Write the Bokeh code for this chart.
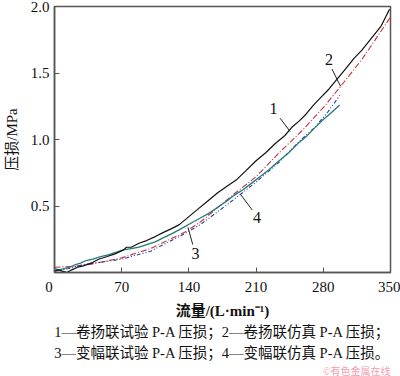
from bokeh.plotting import figure
from bokeh.models import Label, FixedTicker, Range1d, ColumnDataSource, Title, PrintfTickFormatter
from bokeh.embed import file_html
from bokeh.resources import INLINE

# ---- data ----
x1 = [0, 4, 8, 13, 18, 24, 30, 38, 46, 55, 63, 72, 75, 80, 88, 96, 105, 113, 122, 130, 140, 150,
      160, 170, 180, 190, 200, 210, 220, 230, 240, 247, 255, 262, 270, 278, 286, 295, 303, 312,
      320, 330, 340, 349]
y1 = [0.01, 0.02, 0.01, 0.00, 0.02, 0.04, 0.05, 0.07, 0.10, 0.12, 0.14, 0.17, 0.19, 0.19, 0.22,
      0.24, 0.27, 0.30, 0.33, 0.36, 0.42, 0.48, 0.54, 0.60, 0.65, 0.70, 0.77, 0.84, 0.90, 0.97,
      1.03, 1.09, 1.14, 1.19, 1.26, 1.32, 1.38, 1.46, 1.53, 1.61, 1.67, 1.76, 1.85, 1.98]

x2 = [0, 20, 40, 70, 100, 135, 152, 187, 210, 234, 257, 280, 297, 320, 350]
y2 = [0.04, 0.045, 0.065, 0.11, 0.18, 0.30, 0.38, 0.59, 0.72, 0.90, 1.06, 1.24, 1.39, 1.60, 1.92]

x3 = [0, 5, 10, 16, 22, 27, 33, 40, 48, 55, 63, 72, 80, 88, 96, 105, 113, 122, 132, 142, 152,
      162, 170, 180, 187, 196, 205, 214, 223, 234, 244, 255, 262, 270, 280, 288, 297]
y3 = [0.03, 0.02, 0.03, 0.04, 0.06, 0.07, 0.09, 0.10, 0.12, 0.13, 0.15, 0.17, 0.18, 0.19, 0.21,
      0.23, 0.26, 0.29, 0.33, 0.37, 0.41, 0.45, 0.49, 0.54, 0.58, 0.62, 0.67, 0.72, 0.77, 0.84,
      0.90, 0.98, 1.02, 1.08, 1.15, 1.20, 1.26]

x4 = [0, 15, 30, 50, 70, 100, 135, 152, 187, 210, 234, 257, 271, 285, 298]
y4 = [0.01, 0.03, 0.06, 0.08, 0.10, 0.16, 0.29, 0.36, 0.55, 0.68, 0.83, 1.00, 1.09, 1.21, 1.34]

x_ticks = [0, 70, 140, 210, 280, 350]
y_ticks = [0.5, 1.0, 1.5, 2.0]

curve_labels = ["1", "2", "3", "4"]
label_x = [228, 286, 147, 211]
label_y = [1.23, 1.60, 0.14, 0.41]
lead_x0 = [235, 289, 139, 194]
lead_y0 = [1.16, 1.53, 0.34, 0.585]
lead_x1 = [245.5, 298, 144, 206]
lead_y1 = [1.06, 1.40, 0.21, 0.47]

caption1 = "1—卷扬联试验 P-A 压损；2—卷扬联仿真 P-A 压损；"
caption2 = "3—变幅联试验 P-A 压损；4—变幅联仿真 P-A 压损。"
watermark = "©有色金属在线"

SERIF = "'Liberation Serif', 'Noto Sans CJK SC'"
AXC = "#555555"

p = figure(width=400, height=376, output_backend="svg", toolbar_location=None,
           x_range=Range1d(0, 350), y_range=Range1d(0, 2.0),
           min_border_left=54, min_border_right=10, min_border_top=6, min_border_bottom=0)
p.grid.visible = False
p.outline_line_color = AXC
p.outline_line_width = 1.5
p.background_fill_color = "white"
p.border_fill_color = "white"

for ax in (p.xaxis[0], p.yaxis[0]):
    ax.axis_line_color = AXC
    ax.axis_line_width = 1.5
    ax.major_tick_line_color = AXC
    ax.major_tick_in = 5
    ax.major_tick_out = 0
    ax.minor_tick_line_color = None
    ax.major_label_text_font = SERIF
    ax.major_label_text_font_size = "15px"
    ax.major_label_text_color = "#111111"

p.xaxis.ticker = FixedTicker(ticks=x_ticks)
p.xaxis.major_label_overrides = {0: "0\u00a0\u00a0\u00a0"}
p.yaxis.ticker = FixedTicker(ticks=y_ticks)
p.yaxis.formatter = PrintfTickFormatter(format="%.1f")
p.xaxis.major_label_standoff = 6
p.yaxis.major_label_standoff = 5

p.yaxis.axis_label = "压损/MPa"
p.yaxis.axis_label_text_font = SERIF
p.yaxis.axis_label_text_font_size = "15px"
p.yaxis.axis_label_text_font_style = "normal"
p.yaxis.axis_label_text_color = "#111111"
p.yaxis.axis_label_standoff = 8

p.xaxis.axis_label = "流量/(L·min⁻¹)"
p.xaxis.axis_label_text_font = SERIF
p.xaxis.axis_label_text_font_size = "15px"
p.xaxis.axis_label_text_font_style = "bold"
p.xaxis.axis_label_text_color = "#111111"
p.xaxis.axis_label_standoff = 5

# caption as titles below the axis
for txt, sz, col, al, so in [(caption1, "14.5px", "#111111", "center", 0),
                             (caption2, "14.5px", "#111111", "center", 6),
                             (watermark, "10px", "#f2a0b0", "right", 0)]:
    t = Title(text=txt, text_font=SERIF, text_font_size=sz, text_font_style="normal",
              text_color=col, align=al, standoff=so, offset=0)
    p.add_layout(t, "below")

# curves
p.line(x2, y2, line_color="#c8323c", line_width=1.1, line_dash="6 2 1 2")
p.line(x4, y4, line_color="#2a3fa8", line_width=1.1, line_dash="4 2 1 2 1 2")
p.line(x3, y3, line_color="#237a78", line_width=1.3)
p.line(x1, y1, line_color="#111111", line_width=1.2)

# curve number labels with leader lines
src = ColumnDataSource(dict(x0=lead_x0, y0=lead_y0, x1=lead_x1, y1=lead_y1))
p.segment(x0="x0", y0="y0", x1="x1", y1="y1", source=src, line_color="#222222", line_width=1)
for t, lx, ly in zip(curve_labels, label_x, label_y):
    p.add_layout(Label(x=lx, y=ly, text=t, text_font=SERIF, text_font_size="16px",
                       text_align="center", text_baseline="middle", text_color="#111111"))

open("out.html", "w").write(file_html(p, INLINE))
